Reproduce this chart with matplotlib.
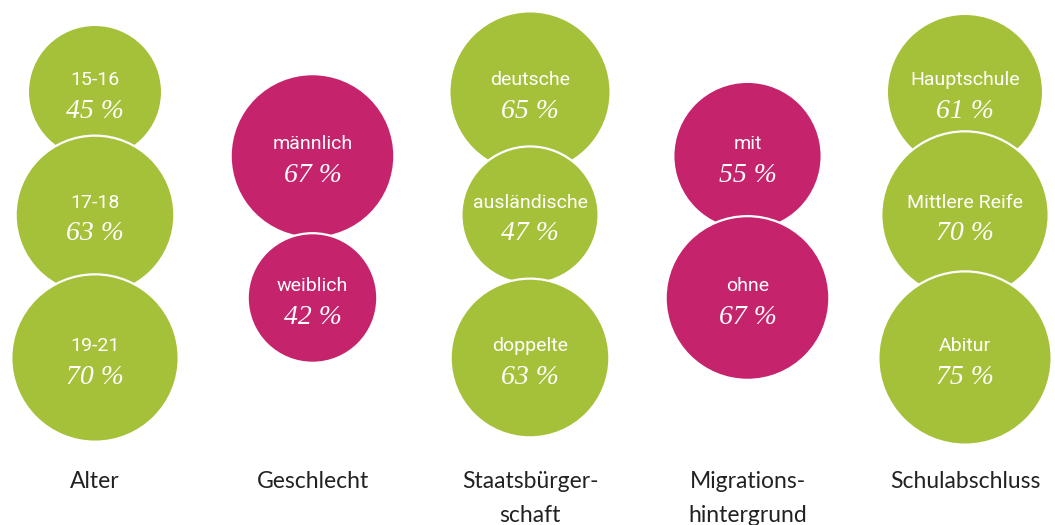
import numpy as np
import matplotlib

matplotlib.use("Agg")
from matplotlib import pyplot as plt
from matplotlib.patches import Circle

# data
groups = ["Alter", "Geschlecht", "Staatsbürger-\nschaft", "Migrations-\nhintergrund", "Schulabschluss"]
alter_labels = ["15-16", "17-18", "19-21"]
alter_values = [45, 63, 70]
geschlecht_labels = ["männlich", "weiblich"]
geschlecht_values = [67, 42]
staat_labels = ["deutsche", "ausländische", "doppelte"]
staat_values = [65, 47, 63]
migration_labels = ["mit", "ohne"]
migration_values = [55, 67]
schule_labels = ["Hauptschule", "Mittlere Reife", "Abitur"]
schule_values = [61, 70, 75]

GREEN = "#A5C13A"
MAGENTA = "#C5246D"
group_colors = [GREEN, MAGENTA, GREEN, MAGENTA, GREEN]

columns = [
    (alter_labels, alter_values),
    (geschlecht_labels, geschlecht_values),
    (staat_labels, staat_values),
    (migration_labels, migration_values),
    (schule_labels, schule_values),
]

# layout in pixels
col_x0, col_dx = 95, 217.5
row_y = {3: [92, 215, 358], 2: [156, 298]}
radius_scale = 10.0  # radius = scale * sqrt(percent) -> area ~ percent

fig = plt.figure(figsize=(10.55, 5.25), dpi=100)
ax = fig.add_axes([0, 0, 1, 1])
ax.set_xlim(0, 1055)
ax.set_ylim(525, 0)
ax.axis("off")

for i, (labels, values) in enumerate(columns):
    cx = col_x0 + i * col_dx
    for cy, label, value in zip(row_y[len(values)], labels, values):
        r = radius_scale * np.sqrt(value)
        ax.add_patch(Circle((cx, cy), r, facecolor=group_colors[i], edgecolor="white", linewidth=1.6))
        ax.text(cx, cy - 12, label, ha="center", va="center", color="white",
                fontsize=14, family="Roboto")
        ax.text(cx, cy + 19, f"{value} %", ha="center", va="center", color="white",
                fontsize=20, family="Liberation Serif", style="italic")

    for j, line in enumerate(groups[i].split("\n")):
        ax.text(cx, 482 + j * 33, line, ha="center", va="center", color="#222222",
                fontsize=16.5, family="Lato")

fig.savefig("out.png", dpi=100)
